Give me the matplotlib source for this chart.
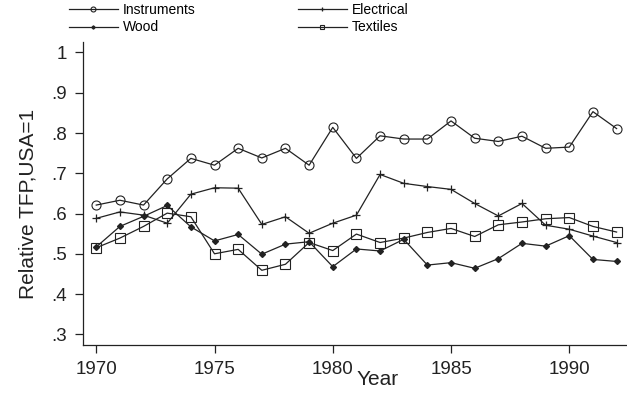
import matplotlib
matplotlib.use("Agg")
import matplotlib.pyplot as plt

# Data --------------------------------------------------------------
years = list(range(1970, 1993))

instruments = [0.621, 0.633, 0.621, 0.686, 0.737, 0.720, 0.762, 0.738,
               0.762, 0.720, 0.814, 0.737, 0.793, 0.785, 0.785, 0.830,
               0.787, 0.779, 0.792, 0.762, 0.765, 0.853, 0.811]

electrical = [0.588, 0.604, 0.596, 0.576, 0.648, 0.664, 0.663, 0.573,
              0.592, 0.551, 0.576, 0.596, 0.697, 0.675, 0.667, 0.660,
              0.625, 0.594, 0.625, 0.571, 0.561, 0.544, 0.528]

wood = [0.517, 0.568, 0.593, 0.620, 0.567, 0.532, 0.548, 0.499,
        0.524, 0.530, 0.468, 0.512, 0.507, 0.536, 0.472, 0.478,
        0.464, 0.488, 0.526, 0.519, 0.545, 0.486, 0.481]

textiles = [0.515, 0.539, 0.568, 0.601, 0.592, 0.500, 0.511, 0.459,
            0.474, 0.528, 0.508, 0.549, 0.528, 0.539, 0.553, 0.563,
            0.543, 0.572, 0.579, 0.587, 0.590, 0.568, 0.554]

xticks = [1970, 1975, 1980, 1985, 1990]
yticks = [1.0, 0.9, 0.8, 0.7, 0.6, 0.5, 0.4, 0.3]
ytick_labels = ["1", ".9", ".8", ".7", ".6", ".5", ".4", ".3"]

# Figure --------------------------------------------------------------
plt.rcParams['font.family'] = ['Liberation Sans', 'DejaVu Sans']

fig = plt.figure(figsize=(6.27, 4.00), dpi=100)
ax = fig.add_axes([0.132, 0.137, 0.868, 0.759])

lc = "#222222"
l1, = ax.plot(years, instruments, color=lc, lw=0.9, marker="o",
              ms=6.5, mfc="none", mec=lc, mew=0.8, label="Instruments")
l2, = ax.plot(years, electrical, color=lc, lw=0.9, marker="+",
              ms=6, mec=lc, mew=0.9, label="Electrical")
l3, = ax.plot(years, wood, color=lc, lw=0.9, marker="D",
              ms=3, mfc=lc, mec=lc, label="Wood")
l4, = ax.plot(years, textiles, color=lc, lw=0.9, marker="s",
              ms=6.5, mfc="none", mec=lc, mew=0.8, label="Textiles")

ax.set_xlim(1969.43, 1992.44)
ax.set_ylim(0.273, 1.027)

ax.set_xticks(xticks)
ax.set_yticks(yticks)
ax.set_yticklabels(ytick_labels)

ax.tick_params(axis="both", direction="out", length=5.5, width=0.9,
               color=lc, labelsize=13.5, labelcolor="#222222")
ax.tick_params(axis="y", pad=6)
ax.tick_params(axis="x", pad=6)

for s in ["top", "right"]:
    ax.spines[s].set_visible(False)
for s in ["left", "bottom"]:
    ax.spines[s].set_linewidth(0.9)
    ax.spines[s].set_color(lc)

ax.set_xlabel("Year", fontsize=15, color="#222222")
ax.set_ylabel("Relative TFP,USA=1", fontsize=15, color="#222222")
ax.xaxis.set_label_coords(0.5425, -0.114)
ax.xaxis.label.set_va("center")
ax.yaxis.set_label_coords(-0.1005, 0.465)
ax.yaxis.label.set_va("center")

# legend on top, two columns
fig.legend([l1, l3, l2, l4],
           ["Instruments", "Wood", "Electrical", "Textiles"],
           ncol=2, loc="upper left", bbox_to_anchor=(69 / 627, 1 - 3 / 400),
           frameon=False, fontsize=10, handlelength=3.5, handletextpad=0.36,
           columnspacing=7.4, labelspacing=0.25, borderpad=0,
           borderaxespad=0, markerscale=0.55)

fig.savefig("out.png", dpi=100)
